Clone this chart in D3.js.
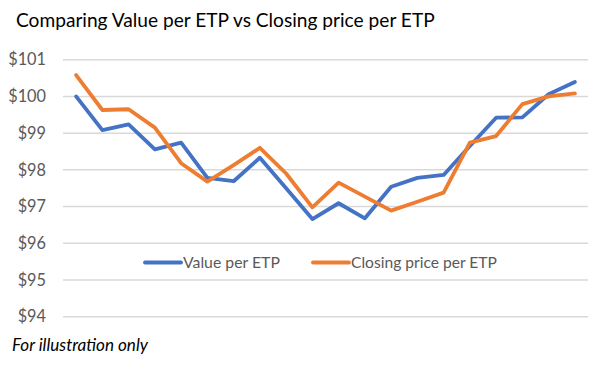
<!DOCTYPE html>
<html>
<head>
<meta charset="utf-8">
<script src="https://cdn.jsdelivr.net/npm/d3@7"></script>
<style>
  body { margin: 0; background: #fff; }
  svg text { font-family: Lato, "Open Sans", sans-serif; }
</style>
</head>
<body>
<div id="chart"></div>
<script>
// data
var periods = d3.range(1, 21);
var valuePerEtp = [100.00, 99.08, 99.24, 98.56, 98.74, 97.78, 97.69, 98.33, 97.50, 96.66,
                   97.09, 96.68, 97.54, 97.78, 97.86, 98.65, 99.42, 99.43, 100.06, 100.39];
var closingPrice = [100.58, 99.63, 99.65, 99.15, 98.18, 97.68, 98.13, 98.60, 97.90, 96.98,
                    97.65, 97.27, 96.89, 97.13, 97.38, 98.74, 98.92, 99.79, 100.00, 100.08];
var yTicks = [94, 95, 96, 97, 98, 99, 100, 101];
var seriesNames = ["Value per ETP", "Closing price per ETP"];
var colors = ["#4472C4", "#ED7D31"];

var w = 605, h = 367;
var plotL = 63, plotR = 588, plotT = 59.7, plotB = 316.7;   //绘图区

var svg = d3.select("#chart").append("svg")
    .attr("width", w)
    .attr("height", h);

// shrink/grow font so text fills the same width as the reference
function fitText(sel, target) {
    var len = sel.node().getComputedTextLength();
    var fs = parseFloat(sel.attr("font-size"));
    sel.attr("font-size", fs * target / len);
}

var x = d3.scaleBand().domain(periods).range([plotL, plotR]);
var y = d3.scaleLinear().domain([94, 101]).range([plotB, plotT]);

// gridlines
svg.selectAll(".grid")
    .data(yTicks)
    .enter()
    .append("line")
    .attr("class", "grid")
    .attr("x1", plotL)
    .attr("x2", plotR)
    .attr("y1", function(d) { return y(d); })
    .attr("y2", function(d) { return y(d); })
    .attr("stroke", "#D9D9D9")
    .attr("stroke-width", 1.5);

// y axis labels
var yAxis = d3.axisLeft(y).tickValues(yTicks).tickSize(0).tickPadding(0)
    .tickFormat(function(d) { return "$" + d; });
var ya = svg.append("g").attr("transform", "translate(46,0)").call(yAxis);
ya.select(".domain").remove();
ya.selectAll("text")
    .attr("font-family", "Lato, 'Open Sans', sans-serif")
    .attr("font-size", 16.3)
    .attr("fill", "#595959");

// lines
var line = d3.line()
    .x(function(d, i) { return x(periods[i]) + x.bandwidth() / 2; })
    .y(function(d) { return y(d); });

[valuePerEtp, closingPrice].forEach(function(vals, k) {
    svg.append("path")
        .datum(vals)
        .attr("d", line)
        .attr("fill", "none")
        .attr("stroke", colors[k])
        .attr("stroke-width", 3.8)
        .attr("stroke-linejoin", "round")
        .attr("stroke-linecap", "round");
});

// legend
var legX = [145, 313];
var legW = [97, 146];
seriesNames.forEach(function(name, k) {
    svg.append("line")
        .attr("x1", legX[k])
        .attr("x2", legX[k] + 36)
        .attr("y1", 262.5)
        .attr("y2", 262.5)
        .attr("stroke", colors[k])
        .attr("stroke-width", 3.8)
        .attr("stroke-linecap", "round");
    var t = svg.append("text")
        .attr("x", legX[k] + 38)
        .attr("y", 268)
        .attr("font-size", 16)
        .attr("fill", "#595959")
        .text(name);
    fitText(t, legW[k]);
});

// title
var title = svg.append("text")
    .attr("x", 16)
    .attr("y", 27)
    .attr("font-size", 22)
    .attr("fill", "#000")
    .text("Comparing Value per ETP vs Closing price per ETP");
fitText(title, 419);

// note
var note = svg.append("text")
    .attr("x", 12)
    .attr("y", 351)
    .attr("font-size", 15)
    .attr("font-style", "italic")
    .attr("fill", "#000")
    .text("For illustration only");
fitText(note, 136);
</script>
</body>
</html>
